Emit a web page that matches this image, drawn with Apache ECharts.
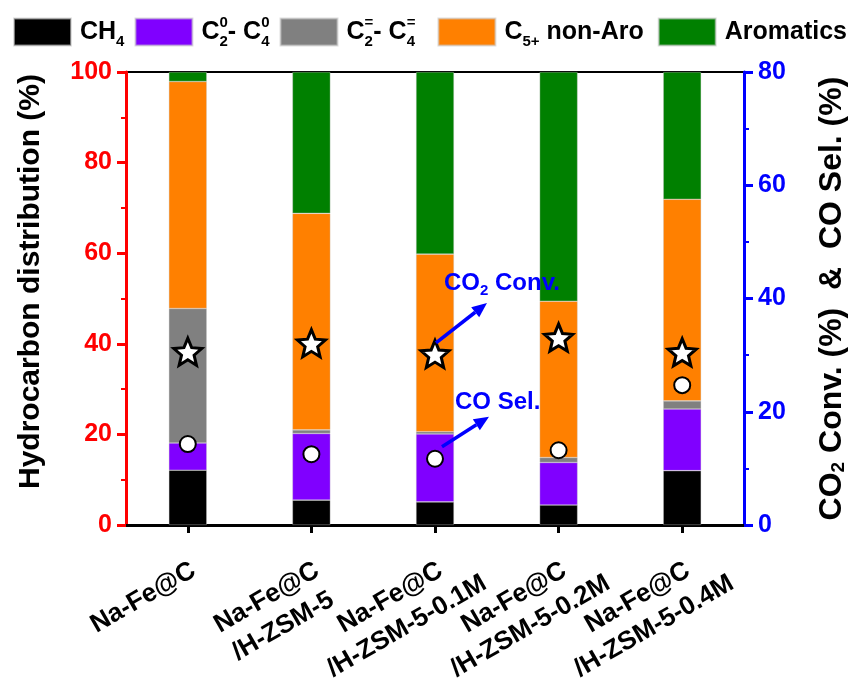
<!DOCTYPE html>
<html>
<head>
<meta charset="utf-8">
<script src="https://cdn.jsdelivr.net/npm/echarts@6/dist/echarts.min.js"></script>
<style>
  html, body { margin: 0; padding: 0; background: #ffffff; }
  #chart { width: 856px; height: 688px; }
</style>
</head>
<body>
<div id="chart"></div>
<script>
// Catalysts
const categories = [
  'Na-Fe@C',
  'Na-Fe@C\n/H-ZSM-5',
  'Na-Fe@C\n/H-ZSM-5-0.1M',
  'Na-Fe@C\n/H-ZSM-5-0.2M',
  'Na-Fe@C\n/H-ZSM-5-0.4M'
];

// Hydrocarbon distribution (%), stacked to 100
const ch4       = [12.1, 5.5, 5.1, 4.4, 12.0];
const paraffins = [6.0, 14.7, 15.0, 9.4, 13.6];   // C2-C4 paraffins
const olefins   = [29.7, 0.8, 0.5, 1.1, 1.8];     // C2-C4 olefins
const c5NonAro  = [50.1, 47.8, 39.2, 34.5, 44.5];
const aromatics = [2.1, 31.2, 40.2, 50.6, 28.1];

// Right axis (%)
const co2Conv = [30.6, 32.1, 30.2, 33.1, 30.5];
const coSel   = [14.3, 12.5, 11.7, 13.2, 24.7];

// Axis ticks
const leftTicks  = { min: 0, max: 100, interval: 20 };
const rightTicks = { min: 0, max: 80, interval: 20 };

const FONT = "'Liberation Sans', Arial, sans-serif";
const STAR = 'path://M50,0 L63.23,31.8 L97.55,34.55 L71.4,56.95 L79.39,90.45 L50,72.5 L20.61,90.45 L28.6,56.95 L2.45,34.55 L36.77,31.8 Z';

const legendLabels = {
  'CH4': '{m|CH}{sb|4}',
  'C2-C4 paraffins': '{m|C}{sz|2}{sp|0}{m|- C}{sz|4}{sp|0}',
  'C2-C4 olefins': '{m|C}{sz|2}{sp|=}{m|- C}{sz|4}{spr|=}',
  'C5+ non-Aro': '{m|C}{sb|5+}{mr| non-Aro}',
  'Aromatics': '{m|Aromatics}'
};

function barSeries(name, data, color) {
  return {
    name: name, type: 'bar', stack: 'hc', data: data, barWidth: 38,
    itemStyle: { color: color, borderColor: 'rgba(200,200,200,0.6)', borderWidth: 0.6 },
    z: 2
  };
}

const chart = echarts.init(document.getElementById('chart'), null, { renderer: 'canvas' });

const option = {
  animation: false,
  backgroundColor: '#ffffff',
  textStyle: { fontFamily: FONT },
  grid: {
    left: 126, right: 111, top: 72, bottom: 163,
    show: true, borderColor: '#000', borderWidth: 2, backgroundColor: 'transparent'
  },
  legend: {
    left: 13, top: 15, width: 900, padding: 0,
    itemWidth: 57, itemHeight: 27, itemGap: 10,
    icon: 'rect',
    data: ['CH4', 'C2-C4 paraffins', 'C2-C4 olefins', 'C5+ non-Aro', 'Aromatics'],
    formatter: function (n) { return legendLabels[n]; },
    textStyle: {
      fontFamily: FONT, fontWeight: 'bold', fontSize: 25, color: '#000',
      padding: [0, 0, 0, 4],
      rich: {
        m:   { fontFamily: FONT, fontWeight: 'bold', fontSize: 25, lineHeight: 34, color: '#000' },
        mr:  { fontFamily: FONT, fontWeight: 'bold', fontSize: 25, lineHeight: 34, color: '#000', padding: [0, 4, 0, 0] },
        sb:  { fontFamily: FONT, fontWeight: 'bold', fontSize: 15, lineHeight: 16, verticalAlign: 'bottom', color: '#000' },
        sz:  { fontFamily: FONT, fontWeight: 'bold', fontSize: 15, lineHeight: 16, verticalAlign: 'bottom', width: 0, color: '#000' },
        sp:  { fontFamily: FONT, fontWeight: 'bold', fontSize: 15, lineHeight: 16, verticalAlign: 'top', color: '#000' },
        spr: { fontFamily: FONT, fontWeight: 'bold', fontSize: 15, lineHeight: 16, verticalAlign: 'top', color: '#000', padding: [0, 12, 0, 0] }
      }
    }
  },
  xAxis: {
    type: 'category',
    data: categories,
    axisLine: { lineStyle: { color: '#000', width: 3 } },
    axisTick: { show: true, alignWithLabel: true, length: 8, lineStyle: { color: '#000', width: 3 } },
    axisLabel: {
      interval: 0, rotate: 30, margin: 66,
      formatter: function (v) {
        const lines = v.split('\n').map(function (s) { return '{a|' + s + '}'; });
        if (lines.length === 1) lines.push('{a| }');
        return lines.join('\n');
      },
      rich: {
        a: { fontFamily: FONT, fontWeight: 'bold', fontSize: 26, color: '#000', width: 84, align: 'center', lineHeight: 33 }
      }
    },
    splitLine: { show: false }
  },
  yAxis: [
    {
      type: 'value', position: 'left',
      min: leftTicks.min, max: leftTicks.max, interval: leftTicks.interval,
      name: 'Hydrocarbon distribution (%)',
      nameLocation: 'middle', nameGap: 80, nameRotate: 90,
      nameTextStyle: { fontFamily: FONT, fontWeight: 'bold', fontSize: 30, color: '#000', padding: [0, 0, 0, 34] },
      axisLine: { show: true, lineStyle: { color: '#ff0000', width: 3 } },
      axisTick: { show: true, length: 9, lineStyle: { color: '#ff0000', width: 3 } },
      minorTick: { show: true, splitNumber: 2, length: 5, lineStyle: { color: '#ff0000', width: 2 } },
      axisLabel: { color: '#ff0000', fontFamily: FONT, fontWeight: 'bold', fontSize: 25, margin: 14 },
      splitLine: { show: false }
    },
    {
      type: 'value', position: 'right',
      min: rightTicks.min, max: rightTicks.max, interval: rightTicks.interval,
      name: 'CO{s|2} Conv. (%)  &  CO Sel. (%)',
      nameLocation: 'middle', nameGap: 72, nameRotate: 90,
      nameTextStyle: {
        fontFamily: FONT, fontWeight: 'bold', fontSize: 32, color: '#000',
        rich: {
          s: { fontFamily: FONT, fontWeight: 'bold', fontSize: 19, lineHeight: 22, verticalAlign: 'bottom', color: '#000' }
        }
      },
      axisLine: { show: true, lineStyle: { color: '#0000ff', width: 3 } },
      axisTick: { show: true, length: 9, lineStyle: { color: '#0000ff', width: 3 } },
      minorTick: { show: true, splitNumber: 2, length: 5, lineStyle: { color: '#0000ff', width: 2 } },
      axisLabel: { color: '#0000ff', fontFamily: FONT, fontWeight: 'bold', fontSize: 25, margin: 14 },
      splitLine: { show: false }
    }
  ],
  series: [
    barSeries('CH4', ch4, '#000000'),
    barSeries('C2-C4 paraffins', paraffins, '#8000ff'),
    barSeries('C2-C4 olefins', olefins, '#808080'),
    barSeries('C5+ non-Aro', c5NonAro, '#ff8000'),
    barSeries('Aromatics', aromatics, '#008000'),
    {
      name: 'CO2 Conv.', type: 'scatter', yAxisIndex: 1, data: co2Conv,
      symbol: STAR, symbolSize: [28, 27],
      itemStyle: { color: '#ffffff', borderColor: '#000000', borderWidth: 3, opacity: 1 },
      z: 5
    },
    {
      name: 'CO Sel.', type: 'scatter', yAxisIndex: 1, data: coSel,
      symbol: 'circle', symbolSize: 16,
      itemStyle: { color: '#ffffff', borderColor: '#000000', borderWidth: 2, opacity: 1 },
      z: 5
    }
  ]
};

chart.setOption(option);

// Annotation arrows pointing away from the third catalyst's markers
function arrow(x1, y1, x2, y2, color) {
  const dx = x2 - x1, dy = y2 - y1;
  const len = Math.sqrt(dx * dx + dy * dy);
  const ux = dx / len, uy = dy / len;
  const head = 15, half = 6.5;
  const bx = x2 - ux * head, by = y2 - uy * head;
  return [
    { type: 'line', shape: { x1: x1, y1: y1, x2: bx, y2: by }, style: { stroke: color, lineWidth: 3.5 }, z: 10 },
    { type: 'polygon', shape: { points: [[x2, y2], [bx - uy * half, by + ux * half], [bx + uy * half, by - ux * half]] },
      style: { fill: color }, z: 10 }
  ];
}

const starPt = chart.convertToPixel({ seriesIndex: 5 }, [2, co2Conv[2]]);
const circPt = chart.convertToPixel({ seriesIndex: 6 }, [2, coSel[2]]);
const blue = '#0000ff';

const graphics = []
  .concat(arrow(starPt[0] + 1, starPt[1] - 11, starPt[0] + 52, starPt[1] - 51, blue))
  .concat(arrow(circPt[0] + 7, circPt[1] - 12, circPt[0] + 54, circPt[1] - 42, blue))
  .concat([
    {
      type: 'text', z: 10,
      style: {
        x: starPt[0] + 9, y: starPt[1] - 71, verticalAlign: 'middle', align: 'left',
        text: '{m|CO}{s|2}{m| Conv.}',
        rich: {
          m: { fontFamily: FONT, fontWeight: 'bold', fontSize: 24, lineHeight: 30, fill: blue },
          s: { fontFamily: FONT, fontWeight: 'bold', fontSize: 15, lineHeight: 14, verticalAlign: 'bottom', fill: blue }
        }
      }
    },
    {
      type: 'text', z: 10,
      style: {
        x: circPt[0] + 20, y: circPt[1] - 56, verticalAlign: 'middle', align: 'left',
        text: 'CO Sel.', fontFamily: FONT, fontWeight: 'bold', fontSize: 24, fill: blue
      }
    }
  ]);

chart.setOption({ graphic: graphics });
</script>
</body>
</html>
